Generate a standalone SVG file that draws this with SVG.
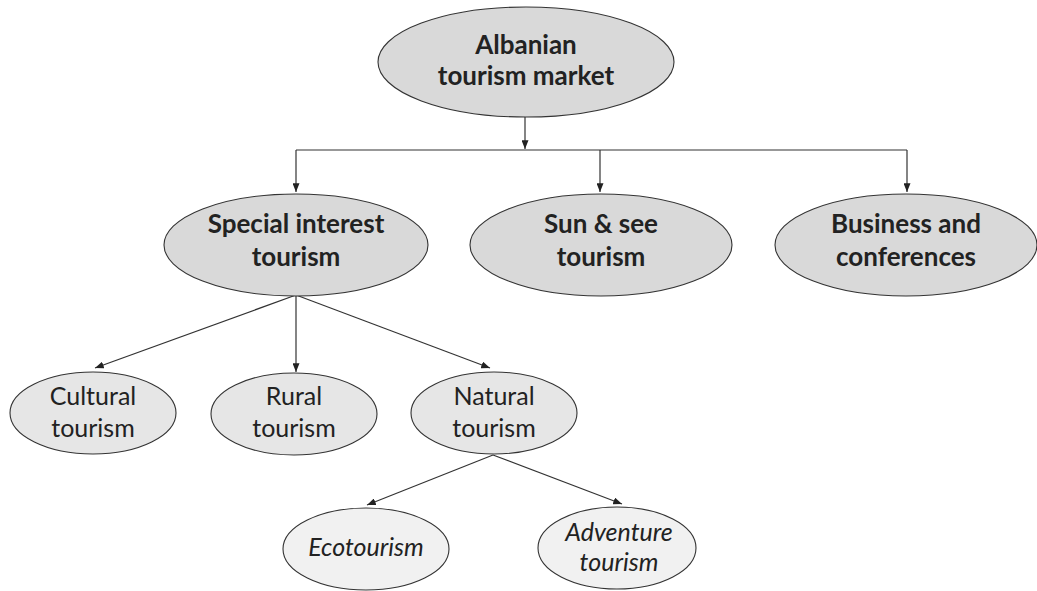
<svg xmlns="http://www.w3.org/2000/svg" width="1037" height="591" viewBox="0 0 1037 591">
<defs>
<marker id="arr" viewBox="0 0 10 8" refX="10" refY="4" markerWidth="9" markerHeight="7" markerUnits="userSpaceOnUse" orient="auto">
<path d="M0,0 L10,4 L0,8 Z" fill="#222"/>
</marker>
<style>
.e1{fill:#d9d9d9;stroke:#333;stroke-width:1.1}
.e2{fill:#e6e6e6;stroke:#333;stroke-width:1.1}
.e3{fill:#f1f1f1;stroke:#333;stroke-width:1.1}
.tb{font-family:Lato,"Open Sans",sans-serif;font-weight:bold;font-size:26px;fill:#222;text-anchor:middle}
.tr{font-family:Lato,"Open Sans",sans-serif;font-size:25px;fill:#222;text-anchor:middle}
.ti{font-family:Lato,"Open Sans",sans-serif;font-style:italic;font-size:25px;fill:#222;text-anchor:middle}
.c{fill:none;stroke:#333;stroke-width:1.2}
</style>
</defs>
<g id="connectors">
<path class="c" d="M525,117 V149" marker-end="url(#arr)"/>
<path class="c" d="M296,150 H907"/>
<path class="c" d="M296,150 V192" marker-end="url(#arr)"/>
<path class="c" d="M600,150 V192" marker-end="url(#arr)"/>
<path class="c" d="M907,150 V192" marker-end="url(#arr)"/>
<path class="c" d="M296,295 L95,368" marker-end="url(#arr)"/>
<path class="c" d="M296,295 V372" marker-end="url(#arr)"/>
<path class="c" d="M296,295 L490,368" marker-end="url(#arr)"/>
<path class="c" d="M493,455 L367,505" marker-end="url(#arr)"/>
<path class="c" d="M493,455 L622,504" marker-end="url(#arr)"/>
</g>
<g id="albanian">
<ellipse class="e1" cx="526" cy="62" rx="148" ry="55"/>
<text class="tb" x="526" y="54">Albanian</text>
<text class="tb" x="526" y="85">tourism market</text>
</g>
<g id="special">
<ellipse class="e1" cx="296" cy="245" rx="132" ry="51"/>
<text class="tb" x="296" y="233">Special interest</text>
<text class="tb" x="296" y="266">tourism</text>
</g>
<g id="sun">
<ellipse class="e1" cx="601" cy="245" rx="131" ry="51"/>
<text class="tb" x="601" y="233">Sun &amp; see</text>
<text class="tb" x="601" y="266">tourism</text>
</g>
<g id="business">
<ellipse class="e1" cx="906" cy="245" rx="131" ry="51"/>
<text class="tb" x="906" y="233">Business and</text>
<text class="tb" x="906" y="266">conferences</text>
</g>
<g id="cultural">
<ellipse class="e2" cx="93" cy="413" rx="83" ry="41"/>
<text class="tr" x="93" y="405">Cultural</text>
<text class="tr" x="93" y="437">tourism</text>
</g>
<g id="rural">
<ellipse class="e2" cx="294" cy="414" rx="83" ry="41"/>
<text class="tr" x="294" y="405">Rural</text>
<text class="tr" x="294" y="437">tourism</text>
</g>
<g id="natural">
<ellipse class="e2" cx="494" cy="413" rx="83" ry="41"/>
<text class="tr" x="494" y="405">Natural</text>
<text class="tr" x="494" y="437">tourism</text>
</g>
<g id="ecotourism">
<ellipse class="e3" cx="366" cy="549" rx="83" ry="41"/>
<text class="ti" x="366" y="556">Ecotourism</text>
</g>
<g id="adventure">
<ellipse class="e3" cx="617" cy="548" rx="79" ry="41"/>
<text class="ti" x="619" y="541">Adventure</text>
<text class="ti" x="619" y="571">tourism</text>
</g>
</svg>
